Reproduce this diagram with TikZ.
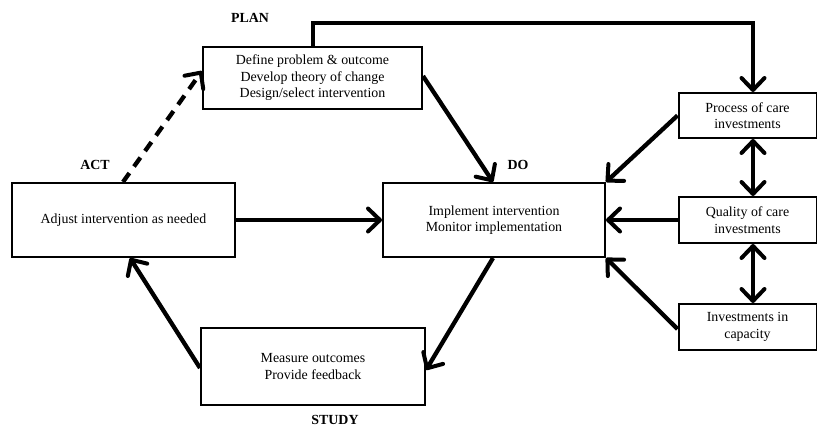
\documentclass[tikz,border=0pt]{standalone}
\usepackage{fontspec}
\setmainfont{Liberation Serif}
\usetikzlibrary{arrows.meta}
\begin{document}
\begin{tikzpicture}[x=1pt,y=-1pt,
  box/.style={draw,line width=2pt,align=center,inner sep=0pt,font=\fontsize{13.9}{16.5}\selectfont},
  lbl/.style={font=\bfseries\fontsize{13.9}{16}\selectfont},
  conn/.style={line width=4.3pt,-{Straight Barb[length=12pt,width=23pt,line width=4pt,round]}},
  dconn/.style={line width=4.3pt,{Straight Barb[length=12pt,width=23pt,line width=4pt,round]}-{Straight Barb[length=12pt,width=23pt,line width=4pt,round]}}]
\useasboundingbox (0,0) rectangle (817,431);
\node[box,minimum width=219pt,minimum height=62pt] (plan) at (312.5,78) {Define problem \& outcome\\Develop theory of change\\Design/select intervention};
\node[box,minimum width=223pt,minimum height=74pt] (act) at (123.5,220) {Adjust intervention as needed};
\node[box,minimum width=222pt,minimum height=74pt] (do) at (494,220) {Implement intervention\\Monitor implementation};
\node[box,minimum width=224pt,minimum height=77pt] (study) at (313,366.5) {Measure outcomes\\Provide feedback};
\node[box,minimum width=138pt,minimum height=45pt] (proc) at (747.5,115.5) {Process of care\\investments};
\node[box,minimum width=138pt,minimum height=46pt] (qual) at (747.5,220) {Quality of care\\investments};
\node[box,minimum width=138pt,minimum height=46pt] (inv) at (747.5,327) {Investments in\\capacity};
\node[lbl] (lplan) at (250,18) {PLAN};
\node[lbl] (lact) at (95,165) {ACT};
\node[lbl] (ldo) at (518,165) {DO};
\node[lbl] (lstudy) at (335,420) {STUDY};
\coordinate (tp) at (313,23);
\draw[conn] (plan.north -| tp) |- (753,23) -- ([xshift=5.5pt]proc.north);
\draw[conn,dash pattern=on 11pt off 8pt] ([xshift=-0.5pt]act.north) -- ([yshift=7pt]plan.west);
\draw[conn] ([yshift=2pt]plan.east) -- ([xshift=-1pt]do.north);
\draw[conn] (act.east) -- (do.west);
\draw[conn] ([xshift=-1pt]do.south) -- ([yshift=-3.5pt]study.east);
\draw[conn] ([yshift=-1.5pt]study.west) -- ([xshift=6.5pt]act.south);
\draw[conn] (proc.west) -- (do.north east);
\draw[conn] (qual.west) -- (do.east);
\draw[conn] ([yshift=-2pt]inv.west) -- (do.south east);
\draw[dconn] ([xshift=5.5pt]proc.south) -- ([xshift=5.5pt]qual.north);
\draw[dconn] ([xshift=5.5pt]qual.south) -- ([xshift=5.5pt]inv.north);
\end{tikzpicture}
\end{document}
